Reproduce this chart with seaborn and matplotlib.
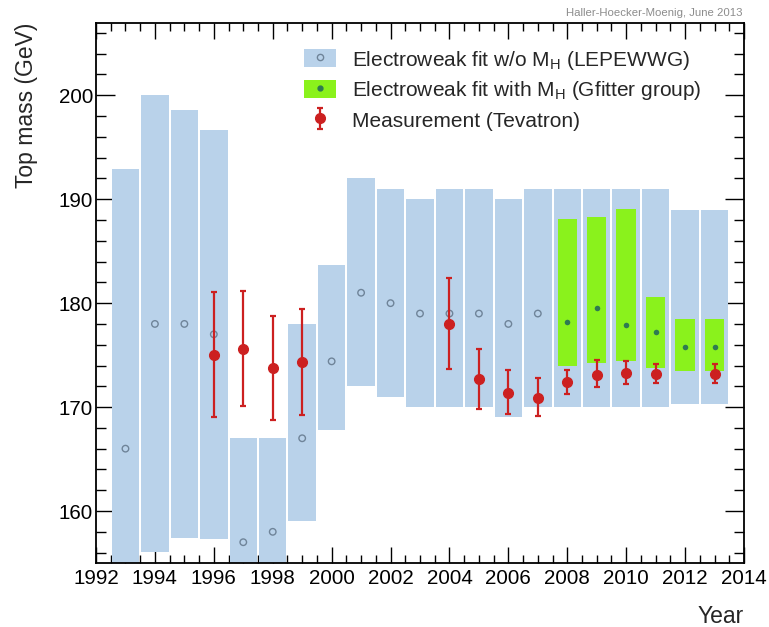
import numpy as np
import matplotlib
matplotlib.use("Agg")
import matplotlib.pyplot as plt
from matplotlib.patches import Patch
from matplotlib.lines import Line2D
from matplotlib.ticker import MultipleLocator
import seaborn as sns

# ---- data -------------------------------------------------------------
years = list(range(1993, 2014))

# electroweak fit without M_H (LEPEWWG): allowed band and central value
ew_low = [150.0, 156.1, 157.4, 157.3, 147.0, 149.0, 159.0, 167.8, 172.0, 171.0,
          170.0, 170.0, 170.0, 169.0, 170.0, 170.0, 170.0, 170.0, 170.0, 170.3, 170.3]
ew_high = [192.9, 200.0, 198.6, 196.7, 167.0, 167.0, 178.0, 183.7, 192.0, 191.0,
           190.0, 191.0, 191.0, 190.0, 191.0, 191.0, 191.0, 191.0, 191.0, 189.0, 189.0]
ew_central_years = list(range(1993, 2008))
ew_central = [166.0, 178.0, 178.0, 177.0, 157.0, 158.0, 167.0, 174.4, 181.0, 180.0,
              179.0, 179.0, 179.0, 178.0, 179.0]

# electroweak fit with M_H (Gfitter group)
gf_years = [2008, 2009, 2010, 2011, 2012, 2013]
gf_low = [174.0, 174.2, 174.4, 173.8, 173.5, 173.5]
gf_high = [188.1, 188.3, 189.1, 180.6, 178.5, 178.5]
gf_central = [178.2, 179.5, 177.9, 177.2, 175.8, 175.8]

# direct measurement (Tevatron)
meas_years = [1996, 1997, 1998, 1999, 2004, 2005, 2006, 2007, 2008, 2009, 2010, 2011, 2013]
meas_val = [175.0, 175.6, 173.8, 174.3, 178.0, 172.7, 171.4, 170.9, 172.4, 173.1, 173.3, 173.2, 173.2]
meas_up = [6.1, 5.6, 5.0, 5.1, 4.4, 2.9, 2.2, 1.9, 1.2, 1.4, 1.1, 0.9, 0.9]
meas_down = [6.0, 5.5, 5.0, 5.1, 4.3, 2.9, 2.1, 1.8, 1.1, 1.2, 1.1, 0.9, 0.9]

# ---- style ------------------------------------------------------------
sns.set_theme(style="ticks")
plt.rcParams["font.family"] = ["Liberation Sans", "DejaVu Sans"]
plt.rcParams["mathtext.fontset"] = "custom"
plt.rcParams["mathtext.rm"] = "Liberation Sans"

BLUE = "#b9d2ea"
GREEN = "#8af21c"
RED = "#cc2020"
CIRCLE = "#6f8499"
DOT = "#2f7a52"

fig = plt.figure(figsize=(7.69, 6.27), dpi=100)
ax = fig.add_axes([96 / 769, 1 - 563 / 627, (744 - 96) / 769, (563 - 22.5) / 627])

# bands
ew_heights = np.array(ew_high) - np.array(ew_low)
ax.bar(years, ew_heights, bottom=ew_low, width=0.93, color=BLUE, linewidth=0, zorder=1)
gf_heights = np.array(gf_high) - np.array(gf_low)
ax.bar(gf_years, gf_heights, bottom=gf_low, width=0.66, color=GREEN, linewidth=0, zorder=2)

# central values of the fits
sns.scatterplot(x=ew_central_years, y=ew_central, ax=ax, marker="o", s=22,
                facecolors="none", edgecolor=CIRCLE, linewidth=1.0, zorder=3)
sns.scatterplot(x=gf_years, y=gf_central, ax=ax, marker="o", s=16,
                color=DOT, edgecolor=DOT, linewidth=0, zorder=3)

# measurements
meas = ax.errorbar(meas_years, meas_val, yerr=[meas_down, meas_up], fmt="o",
                   color=RED, ms=7, elinewidth=1.6, capsize=2, capthick=1.6, zorder=4)

# axes
ax.set_xlim(1992, 2014)
ax.set_ylim(155, 207)
ax.xaxis.set_major_locator(MultipleLocator(2))
ax.xaxis.set_minor_locator(MultipleLocator(0.5))
ax.yaxis.set_minor_locator(MultipleLocator(2))
ax.set_yticks([160, 170, 180, 190, 200])
ax.tick_params(axis="x", which="major", direction="in", length=11.5, width=1.0,
               top=True, bottom=True, labelsize=14.8, pad=4, color="black", labelcolor="black")
ax.tick_params(axis="x", which="minor", direction="in", length=5.8, width=1.0,
               top=True, bottom=True, color="black")
ax.tick_params(axis="y", which="major", direction="in", length=14, width=1.0,
               left=True, right=True, labelsize=14.8, pad=2, color="black", labelcolor="black")
ax.tick_params(axis="y", which="minor", direction="in", length=7.2, width=1.0,
               left=True, right=True, color="black")
for sp in ax.spines.values():
    sp.set_visible(True)
    sp.set_color("black")
    sp.set_linewidth(1.3)

ax.set_xlabel("Year", fontsize=16.5, ha="right", x=1.0, labelpad=12.5)
ax.set_ylabel("Top mass (GeV)", fontsize=16.5, ha="right", y=1.0, labelpad=15)

fig.text(742 / 769, 1 - 12.5 / 627, "Haller-Hoecker-Moenig, June 2013",
         ha="right", va="center", fontsize=8.2, color="#8c8c8c")

# legend
h_ew = (Patch(facecolor=BLUE, edgecolor="none"),
        Line2D([], [], ls="", marker="o", ms=4.5, mfc="none", mec=CIRCLE, mew=1.0))
h_gf = (Patch(facecolor=GREEN, edgecolor="none"),
        Line2D([], [], ls="", marker="o", ms=3.5, color=DOT))
fig.legend([h_ew, h_gf, meas],
           [r"Electroweak fit w/o M$_\mathregular{H}$ (LEPEWWG)",
            r"Electroweak fit with M$_\mathregular{H}$ (Gfitter group)",
            "Measurement (Tevatron)"],
           loc="upper left", bbox_to_anchor=(304 / 769, 1 - 48.5 / 627),
           frameon=False, fontsize=15, borderpad=0, borderaxespad=0,
           handlelength=1.54, handleheight=0.96, handletextpad=0.77,
           labelspacing=0.38)

fig.savefig("out.png", dpi=100)
